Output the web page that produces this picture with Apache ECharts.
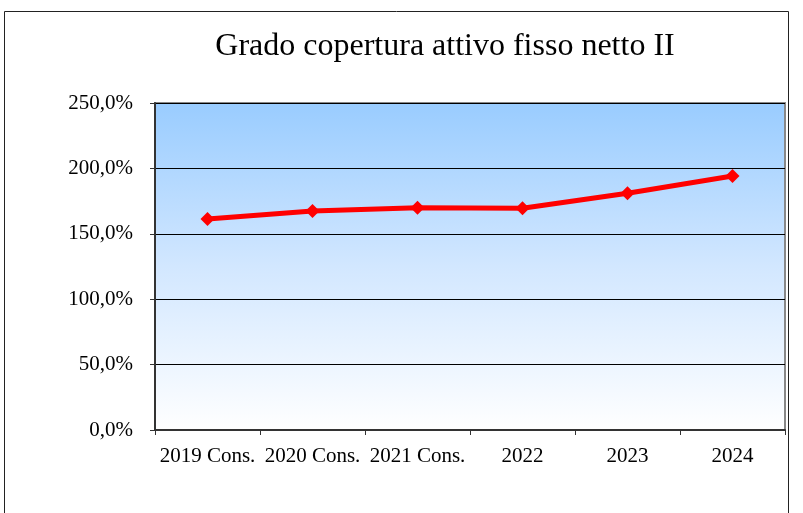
<!DOCTYPE html>
<html>
<head>
<meta charset="utf-8">
<script src="https://cdn.jsdelivr.net/npm/echarts@6/dist/echarts.min.js"></script>
<style>
  html, body { margin: 0; padding: 0; background: #fff; }
  #chart { width: 803px; height: 513px; }
</style>
</head>
<body>
<div id="chart"></div>
<script>
const categories = ['2019 Cons.', '2020 Cons.', '2021 Cons.', '2022', '2023', '2024']
const values = [161.3, 167.4, 170.0, 169.5, 181.0, 194.2]
const yMin = 0
const yMax = 250
const yStep = 50

const serif = '"Liberation Serif", "Times New Roman", serif'

const chart = echarts.init(document.getElementById('chart'))
chart.setOption({
  backgroundColor: '#ffffff',
  animation: false,
  title: {
    text: 'Grado copertura attivo fisso netto II',
    left: 440,
    textAlign: 'center',
    top: 26,
    textStyle: {
      fontFamily: serif,
      fontSize: 32,
      fontWeight: 'normal',
      color: '#000'
    }
  },
  graphic: [{
    type: 'rect',
    shape: { x: 4.5, y: 11.5, width: 784, height: 520 },
    style: { fill: 'none', stroke: '#222', lineWidth: 1 },
    z: 0
  }],
  grid: {
    left: 155,
    right: 18,
    top: 103,
    bottom: 83,
    show: true,
    borderColor: '#888',
    borderWidth: 2,
    backgroundColor: new echarts.graphic.LinearGradient(0, 0, 0, 1, [
      { offset: 0, color: '#99ccff' },
      { offset: 0.5, color: '#d2e7ff' },
      { offset: 1, color: '#ffffff' }
    ])
  },
  xAxis: {
    type: 'category',
    data: categories,
    boundaryGap: true,
    axisLine: { lineStyle: { color: '#333', width: 2 } },
    axisTick: { show: true, length: 5, lineStyle: { color: '#333' } },
    axisLabel: {
      fontFamily: serif,
      fontSize: 21,
      color: '#000',
      margin: 16,
      interval: 0
    },
    splitLine: { show: false }
  },
  yAxis: {
    type: 'value',
    min: yMin,
    max: yMax,
    interval: yStep,
    axisLine: { show: true, lineStyle: { color: '#333', width: 2 } },
    axisTick: { show: true, length: 5, lineStyle: { color: '#333' } },
    axisLabel: {
      fontFamily: serif,
      fontSize: 21,
      color: '#000',
      margin: 22,
      formatter: function (v) {
        return v.toFixed(1).replace('.', ',') + '%'
      }
    },
    splitLine: { show: true, lineStyle: { color: '#000', width: 1 } }
  },
  series: [{
    type: 'line',
    data: values,
    symbol: 'diamond',
    symbolSize: 14,
    lineStyle: { color: '#ff0000', width: 5 },
    itemStyle: { color: '#ff0000' },
    z: 5
  }]
})
</script>
</body>
</html>
